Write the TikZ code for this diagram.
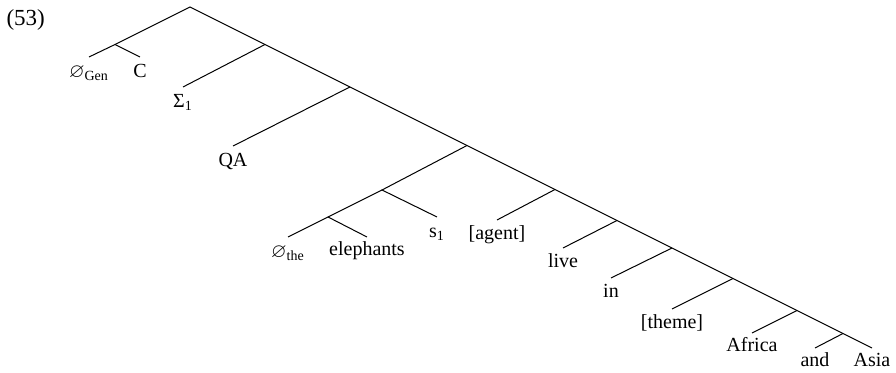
\documentclass[tikz,border=0pt]{standalone}
\usepackage{amssymb}
\usepackage{fontspec}
\setmainfont{Liberation Serif}
\begin{document}
\begin{tikzpicture}[x=0.5pt,y=-0.5pt,line width=0.5pt,
  lab/.style={anchor=base,inner sep=0pt,font=\fontsize{10}{12}\selectfont},
  edge/.style={draw=black,line width=0.5pt}]
\useasboundingbox (0,0) rectangle (896,373);
\node[anchor=base west,inner sep=0pt,font=\fontsize{11.5}{14}\selectfont] (ex) at (6,26) {(53)};
% internal nodes
\coordinate (r) at (190,7);
\coordinate (a) at (115,44.5);
\coordinate (n1) at (265,44.5);
\coordinate (n2) at (350,87);
\coordinate (n3) at (467,145.5);
\coordinate (b) at (382,190);
\coordinate (c) at (328,217);
\coordinate (n4) at (555,189.5);
\coordinate (n5) at (617,220.5);
\coordinate (n6) at (672,248);
\coordinate (n7) at (733,278.5);
\coordinate (n8) at (797,310.5);
\coordinate (n9) at (843,333.5);
% leaves
\coordinate (lgen) at (89,57);
\coordinate (lc) at (140,57);
\coordinate (lsig) at (183,87);
\coordinate (lqa) at (233,146);
\coordinate (lthe) at (288,237);
\coordinate (lele) at (367,237);
\coordinate (ls) at (437,217);
\coordinate (lag) at (497,220);
\coordinate (llive) at (563,248);
\coordinate (lin) at (611,278);
\coordinate (lth) at (672,309);
\coordinate (laf) at (752,333);
\coordinate (land) at (815,348);
\coordinate (las) at (872,348);
% edges
\draw[edge] (a) -- (r) -- (n1) -- (n2) -- (n3) -- (n4) -- (n5) -- (n6) -- (n7) -- (n8) -- (n9) -- (las);
\draw[edge] (lgen) -- (a) -- (lc);
\draw[edge] (n1) -- (lsig);
\draw[edge] (n2) -- (lqa);
\draw[edge] (n3) -- (b) -- (ls);
\draw[edge] (b) -- (c);
\draw[edge] (lthe) -- (c) -- (lele);
\draw[edge] (n4) -- (lag);
\draw[edge] (n5) -- (llive);
\draw[edge] (n6) -- (lin);
\draw[edge] (n7) -- (lth);
\draw[edge] (n8) -- (laf);
\draw[edge] (n9) -- (land);
% labels
\node[lab] (tgen) at ([yshift=-21*0.5pt]lgen) {$\varnothing$\textsubscript{Gen}};
\node[lab] (tc) at ([yshift=-21*0.5pt]lc) {C};
\node[lab] (tsig) at ([yshift=-21*0.5pt]lsig) {Σ\textsubscript{1}};
\node[lab] (tqa) at ([yshift=-21*0.5pt]lqa) {QA};
\node[lab] (tthe) at ([yshift=-21*0.5pt]lthe) {$\varnothing$\textsubscript{the}};
\node[lab] (tele) at ([yshift=-19*0.5pt]lele) {elephants};
\node[lab] (ts) at ([yshift=-21*0.5pt]ls) {s\textsubscript{1}};
\node[lab] (tag) at ([yshift=-20*0.5pt]lag) {[agent]};
\node[lab] (tlive) at ([yshift=-20*0.5pt]llive) {live};
\node[lab] (tin) at ([yshift=-20*0.5pt]lin) {in};
\node[lab] (tth) at ([yshift=-20*0.5pt]lth) {[theme]};
\node[lab] (taf) at ([yshift=-19*0.5pt]laf) {Africa};
\node[lab] (tand) at ([yshift=-19*0.5pt]land) {and};
\node[lab] (tas) at ([yshift=-19*0.5pt]las) {Asia};
\end{tikzpicture}
\end{document}
